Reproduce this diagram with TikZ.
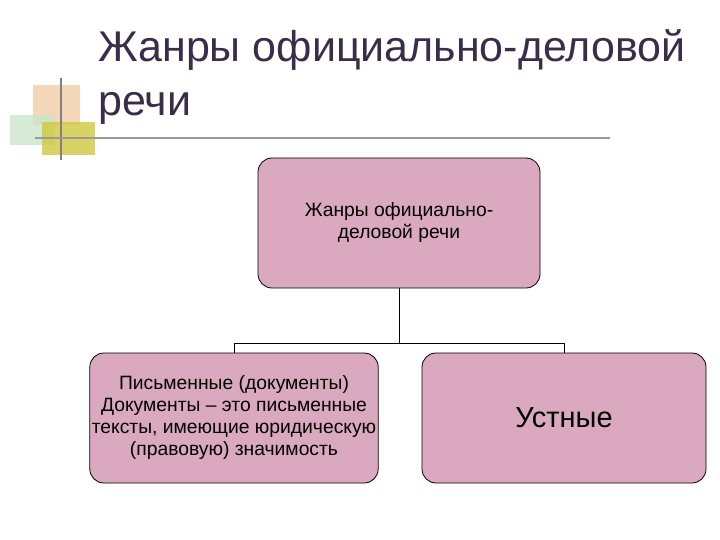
\documentclass[tikz,border=0pt]{standalone}
\usepackage{fontspec}
\setmainfont{Liberation Sans}
\definecolor{boxfill}{HTML}{DBA9BF}
\definecolor{titlec}{HTML}{3B2C4A}
\begin{document}
\begin{tikzpicture}[x=1pt,y=-1pt,
  bx/.style={draw=black,line width=0.8pt,fill=boxfill,rounded corners=14pt,minimum width=284pt,minimum height=130pt,align=center,inner sep=2pt,font=\fontsize{19.3}{22}\selectfont},
  ln/.style={line width=1pt}]
\useasboundingbox (0,0) rectangle (720,540);
% decoration
\fill[orange!45!brown!40!white,opacity=0.8] (33,85) rectangle (80,125);
\fill[green!35!gray!30!white,opacity=0.8] (10,115) rectangle (55,145);
\fill[olive!60!yellow!70!white,opacity=0.8] (42,122) rectangle (95,155);
\draw[gray,line width=2pt] (61,78) -- (61,160);
\draw[gray!80,line width=2pt] (35,138) -- (610,138);
% title
\node[anchor=base west,text=titlec,font=\fontsize{43}{46}\selectfont,inner sep=0] (t1) at (98,62) {Жанры официально-деловой};
\node[anchor=base west,text=titlec,font=\fontsize{43}{46}\selectfont,inner sep=0] (t2) at (98,116) {речи};
% boxes
\node[bx,minimum width=282pt] (top) at (399,223) {Жанры официально-\\деловой речи};
\node[bx] (left) at (234,418) {Письменные (документы)\\Документы – это письменные\\тексты, имеющие юридическую\\(правовую) значимость};
\node[bx,font=\fontsize{29}{32}\selectfont] (right) at (564,418) {Устные};
\coordinate (j) at (399,343);
\draw[ln] (top.south) -- (j);
\draw[ln] (left.north) -- (left.north |- j) -- (right.north |- j) -- (right.north);
\end{tikzpicture}
\end{document}
